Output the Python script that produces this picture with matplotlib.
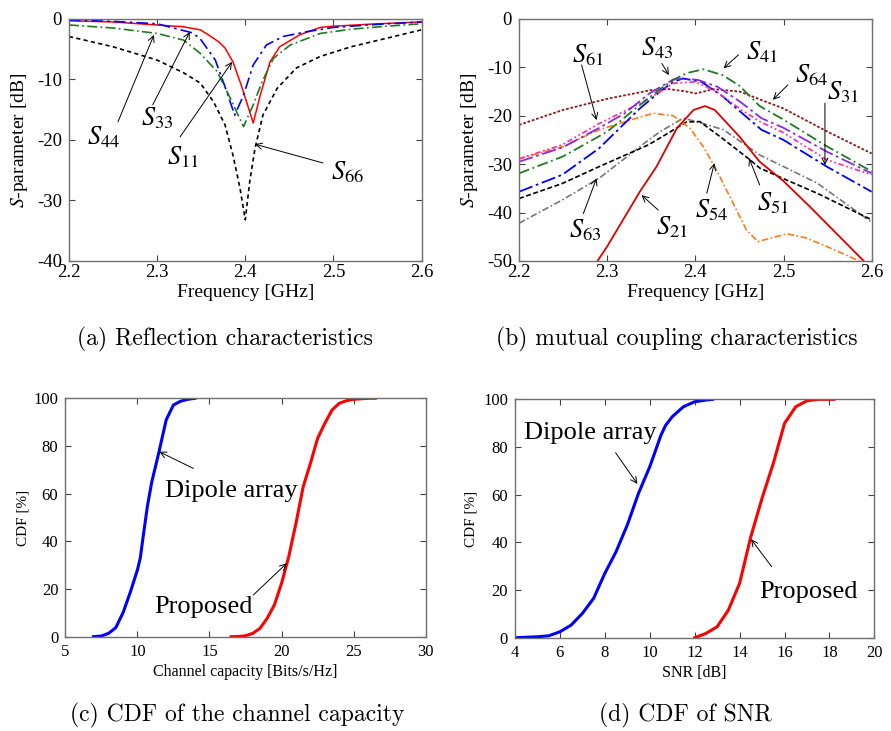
import numpy as np
import matplotlib
matplotlib.use("Agg")
import matplotlib.pyplot as plt

plt.rcParams['font.family'] = ['Liberation Serif', 'DejaVu Serif']
plt.rcParams['mathtext.fontset'] = 'stix'
plt.rcParams['axes.unicode_minus'] = False

# ── (a) reflection characteristics ──────────────────────────────────
s11_f = [2.20, 2.25, 2.30, 2.33, 2.349, 2.36, 2.37, 2.377, 2.386, 2.396, 2.409, 2.417, 2.428, 2.439, 2.462, 2.485, 2.50, 2.55, 2.60]
s11_v = [-0.3, -0.5, -1.0, -1.3, -1.8, -2.8, -3.8, -4.8, -7.1, -11.2, -17.2, -12.6, -7.1, -4.6, -2.6, -1.4, -1.2, -0.8, -0.5]

s33_f = [2.20, 2.25, 2.30, 2.34, 2.349, 2.366, 2.377, 2.388, 2.398, 2.409, 2.424, 2.443, 2.47, 2.50, 2.55, 2.60]
s33_v = [-0.2, -0.4, -0.8, -2.3, -3.3, -6.8, -11.2, -15.9, -12.6, -7.6, -4.3, -2.9, -2.1, -1.4, -0.9, -0.5]

s44_f = [2.20, 2.25, 2.30, 2.33, 2.349, 2.368, 2.383, 2.398, 2.409, 2.419, 2.432, 2.451, 2.485, 2.52, 2.56, 2.60]
s44_v = [-1.0, -1.5, -2.4, -3.5, -5.7, -8.7, -13.1, -17.8, -14.2, -10.4, -6.5, -4.3, -2.4, -1.7, -1.2, -0.8]

s66_f = [2.20, 2.25, 2.30, 2.33, 2.349, 2.364, 2.377, 2.386, 2.394, 2.40, 2.405, 2.411, 2.42, 2.436, 2.458, 2.485, 2.52, 2.56, 2.60]
s66_v = [-2.9, -4.6, -6.8, -8.9, -10.6, -13.7, -17.5, -22.5, -28.0, -33.2, -26.9, -21.4, -15.9, -11.5, -8.1, -6.2, -4.6, -3.2, -1.8]

# ── (b) mutual coupling characteristics ─────────────────────────────
s64_f = [2.20, 2.25, 2.30, 2.35, 2.37, 2.39, 2.40, 2.41, 2.42, 2.45, 2.50, 2.55, 2.60]
s64_v = [-21.9, -18.8, -16.5, -14.7, -14.5, -15.0, -15.4, -15.0, -14.5, -15.0, -18.5, -23.3, -27.8]

s41_f = [2.20, 2.25, 2.30, 2.337, 2.36, 2.375, 2.39, 2.409, 2.431, 2.45, 2.473, 2.50, 2.55, 2.60]
s41_v = [-31.9, -28.4, -23.3, -17.8, -14.5, -12.6, -11.2, -10.4, -11.6, -13.8, -18.0, -20.8, -26.4, -31.5]

s43_f = [2.20, 2.25, 2.29, 2.32, 2.347, 2.375, 2.386, 2.403, 2.425, 2.45, 2.475, 2.50, 2.55, 2.60]
s43_v = [-29.5, -26.5, -22.6, -19.5, -15.5, -12.5, -12.3, -12.6, -14.0, -17.0, -20.5, -22.5, -27.5, -31.9]

s31_f = [2.20, 2.249, 2.291, 2.337, 2.36, 2.375, 2.386, 2.407, 2.431, 2.45, 2.475, 2.50, 2.549, 2.60]
s31_v = [-35.7, -32.2, -26.7, -18.5, -15.0, -13.0, -12.3, -13.0, -16.0, -19.0, -22.9, -25.0, -30.5, -35.7]

s61_f = [2.20, 2.249, 2.291, 2.32, 2.347, 2.375, 2.40, 2.424, 2.45, 2.473, 2.50, 2.549, 2.60]
s61_v = [-28.9, -26.0, -21.6, -19.0, -16.5, -13.3, -13.0, -15.0, -18.5, -21.2, -23.5, -29.1, -32.2]

s54_f = [2.20, 2.249, 2.291, 2.337, 2.352, 2.375, 2.394, 2.409, 2.424, 2.439, 2.458, 2.471, 2.485, 2.504, 2.525, 2.549, 2.586]
s54_v = [-28.9, -26.4, -22.9, -20.3, -19.5, -20.0, -22.6, -26.4, -31.2, -36.7, -43.6, -46.0, -45.3, -44.4, -45.2, -47.0, -50.0]

s21_f = [2.289, 2.30, 2.337, 2.356, 2.379, 2.398, 2.411, 2.422, 2.45, 2.473, 2.50, 2.53, 2.591]
s21_v = [-50.0, -47.0, -35.7, -30.5, -22.6, -18.8, -18.0, -18.8, -24.3, -29.5, -33.5, -38.8, -50.0]

s51_f = [2.20, 2.249, 2.291, 2.347, 2.37, 2.39, 2.405, 2.428, 2.462, 2.473, 2.50, 2.538, 2.60]
s51_v = [-37.1, -34.0, -30.5, -26.0, -23.5, -21.3, -21.2, -24.3, -29.1, -30.8, -33.0, -36.0, -41.5]

s63_f = [2.20, 2.249, 2.291, 2.347, 2.36, 2.386, 2.405, 2.432, 2.473, 2.50, 2.538, 2.60]
s63_v = [-42.2, -37.4, -32.9, -25.0, -23.3, -20.5, -21.4, -22.9, -28.1, -30.5, -33.9, -42.0]

# ── (c) CDF of channel capacity ─────────────────────────────────────
cap_dip_x = [6.95, 7.5, 8.0, 8.5, 9.0, 9.5, 10.0, 10.2, 10.4, 10.7, 11.0, 11.2, 11.5, 11.7, 12.0, 12.2, 12.5, 13.0, 13.5, 14.0]
cap_dip_y = [0, 0.3, 1.4, 3.8, 10.0, 18.5, 28.0, 33.0, 42.0, 55.0, 65.0, 70.0, 77.6, 83.0, 91.0, 93.5, 97.2, 98.8, 99.6, 100]
cap_pro_x = [16.5, 17.0, 17.5, 18.0, 18.5, 19.0, 19.5, 20.0, 20.5, 21.0, 21.5, 22.0, 22.5, 23.0, 23.5, 24.0, 24.5, 25.0, 26.0, 26.5]
cap_pro_y = [0, 0.1, 0.4, 1.4, 3.5, 7.7, 13.3, 22.4, 33.6, 47.6, 62.9, 72.7, 83.2, 89.5, 95.1, 97.9, 99.0, 99.6, 100, 100]

# ── (d) CDF of SNR ──────────────────────────────────────────────────
snr_dip_x = [4.0, 5.0, 5.5, 6.0, 6.5, 7.0, 7.5, 8.0, 8.5, 9.0, 9.5, 10.0, 10.5, 10.7, 11.0, 11.5, 12.0, 12.5, 12.8]
snr_dip_y = [0, 0.4, 0.8, 2.5, 5.3, 10.2, 16.5, 27.0, 36.1, 47.3, 60.6, 71.7, 85.0, 89.0, 92.7, 96.9, 99.0, 99.7, 100]
snr_pro_x = [12.0, 12.5, 13.0, 13.5, 14.0, 14.5, 15.0, 15.5, 16.0, 16.5, 17.0, 17.5, 18.2]
snr_pro_y = [0, 1.8, 4.6, 11.6, 22.8, 42.4, 58.5, 73.1, 89.9, 96.9, 99.4, 100, 100]


def style_axes(ax, size, xpad, ypad):
    for sp in ax.spines.values():
        sp.set_color('#707070')
        sp.set_linewidth(1.0)
    ax.tick_params(direction='in', top=True, right=True, length=4, width=0.8,
                   color='#404040', labelsize=size)
    ax.tick_params(axis='x', pad=xpad)
    ax.tick_params(axis='y', pad=ypad)


def arrow(ax, head, tail):
    ax.annotate('', xy=head, xytext=tail,
                arrowprops=dict(arrowstyle='->', lw=0.7, color='black',
                                shrinkA=0, shrinkB=0, mutation_scale=11))


fig = plt.figure(figsize=(8.91, 7.31), dpi=100)

# (a)
ax = fig.add_axes([0.0774, 0.6430, 0.3958, 0.3311])
ax.plot(s11_f, s11_v, color='red', lw=1.1)
ax.plot(s33_f, s33_v, color='blue', lw=1.2, dashes=(7, 2.5, 1.5, 2.5))
ax.plot(s44_f, s44_v, color='#1e7b1e', lw=1.2, dashes=(6, 2, 1, 2))
ax.plot(s66_f, s66_v, color='black', lw=1.2, dashes=(2.5, 2))
ax.set_xlim(2.2, 2.6)
ax.set_ylim(-40, 0)
ax.set_xticks(np.arange(2.2, 2.61, 0.1))
ax.set_yticks([0, -10, -20, -30, -40])
style_axes(ax, 13.5, 2.5, 5)
ax.set_xlabel('Frequency [GHz]', fontsize=14)
ax.set_ylabel(r'$S$-parameter [dB]', fontsize=14)
ax.xaxis.set_label_coords(0.5, -0.095)
ax.yaxis.set_label_coords(-0.11, 0.5)
arrow(ax, (2.2964, -2.64), (2.2556, -17.0))
arrow(ax, (2.337, -2.15), (2.295, -14.2))
arrow(ax, (2.385, -7.1), (2.326, -19.5))
arrow(ax, (2.411, -20.7), (2.488, -23.8))
for txt, x, y in [(r'$S_{44}$', 2.2397, -19.5), (r'$S_{33}$', 2.2998, -16.4),
                  (r'$S_{11}$', 2.3293, -22.8), (r'$S_{66}$', 2.5164, -25.3)]:
    ax.text(x, y, txt, fontsize=19, ha='center', va='center')

# (b)
ax = fig.add_axes([0.5825, 0.6430, 0.3958, 0.3311])
ax.plot(s64_f, s64_v, color='#8b1a1a', lw=1.3, dashes=(1.5, 1))
ax.plot(s63_f, s63_v, color='#777777', lw=1.2, dashes=(4, 1.5, 1, 1.5))
ax.plot(s51_f, s51_v, color='black', lw=1.2, dashes=(3, 1.5))
ax.plot(s54_f, s54_v, color='#ff7a1a', lw=1.2, dashes=(4, 1.5, 1, 1.5))
ax.plot(s21_f, s21_v, color='#e00000', lw=1.3)
ax.plot(s31_f, s31_v, color='blue', lw=1.3, dashes=(8, 2, 1.5, 2))
ax.plot(s61_f, s61_v, color='#ff33aa', lw=1.3, dashes=(3, 1.5, 1, 1.5, 1, 1.5))
ax.plot(s43_f, s43_v, color='#8a2be2', lw=1.3, dashes=(8, 2, 1.5, 2))
ax.plot(s41_f, s41_v, color='#1e7b1e', lw=1.3, dashes=(6, 2, 1, 2))
ax.set_xlim(2.2, 2.6)
ax.set_ylim(-50, 0)
ax.set_xticks(np.arange(2.2, 2.61, 0.1))
ax.set_yticks([0, -10, -20, -30, -40, -50])
style_axes(ax, 13.5, 2.5, 5)
ax.set_xlabel('Frequency [GHz]', fontsize=14)
ax.set_ylabel(r'$S$-parameter [dB]', fontsize=14)
ax.xaxis.set_label_coords(0.5, -0.095)
ax.yaxis.set_label_coords(-0.11, 0.5)
arrow(ax, (2.288, -20.9), (2.271, -9.5))
arrow(ax, (2.370, -11.6), (2.362, -9.2))
arrow(ax, (2.432, -10.2), (2.449, -7.4))
arrow(ax, (2.488, -16.7), (2.505, -13.6))
arrow(ax, (2.547, -30.2), (2.547, -17.4))
arrow(ax, (2.288, -32.9), (2.273, -40.2))
arrow(ax, (2.339, -36.4), (2.358, -39.5))
arrow(ax, (2.4216, -29.8), (2.413, -36.0))
arrow(ax, (2.461, -28.8), (2.473, -34.3))
for txt, x, y in [(r'$S_{61}$', 2.2783, -7.4), (r'$S_{43}$', 2.3565, -6.0),
                  (r'$S_{41}$', 2.4756, -6.8), (r'$S_{64}$', 2.5323, -11.6),
                  (r'$S_{31}$', 2.5674, -15.1), (r'$S_{63}$', 2.2749, -43.6),
                  (r'$S_{21}$', 2.3735, -43.0), (r'$S_{54}$', 2.4189, -39.5),
                  (r'$S_{51}$', 2.4881, -38.0)]:
    ax.text(x, y, txt, fontsize=19, ha='center', va='center')

# (c)
ax = fig.add_axes([0.0733, 0.1290, 0.4045, 0.3261])
ax.plot(cap_dip_x, cap_dip_y, color='blue', lw=2.2)
ax.plot(cap_pro_x, cap_pro_y, color='red', lw=2.2)
ax.set_xlim(5, 30)
ax.set_ylim(0, 100)
ax.set_xticks(range(5, 31, 5))
ax.set_yticks(range(0, 101, 20))
style_axes(ax, 12, 5.5, 5)
ax.set_xlabel('Channel capacity [Bits/s/Hz]', fontsize=11.5)
ax.set_ylabel('CDF [%]', fontsize=11)
ax.xaxis.set_label_coords(0.5, -0.115)
ax.yaxis.set_label_coords(-0.098, 0.5)
arrow(ax, (11.52, 77.6), (13.88, 70.6))
arrow(ax, (20.36, 30.8), (18.04, 17.5))
ax.text(16.49, 61.1, 'Dipole array', fontsize=19, ha='center', va='center')
ax.text(14.59, 12.5, 'Proposed', fontsize=19, ha='center', va='center')

# (d)
ax = fig.add_axes([0.5780, 0.1276, 0.4033, 0.3261])
ax.plot(snr_dip_x, snr_dip_y, color='blue', lw=2.2)
ax.plot(snr_pro_x, snr_pro_y, color='red', lw=2.2)
ax.set_xlim(4, 20)
ax.set_ylim(0, 100)
ax.set_xticks(range(4, 21, 2))
ax.set_yticks(range(0, 101, 20))
style_axes(ax, 12, 5.5, 5)
ax.set_xlabel('SNR [dB]', fontsize=11.5)
ax.set_ylabel('CDF [%]', fontsize=11)
ax.xaxis.set_label_coords(0.5, -0.115)
ax.yaxis.set_label_coords(-0.103, 0.5)
arrow(ax, (9.45, 64.5), (8.48, 77.6))
arrow(ax, (14.51, 41.3), (15.43, 29.8))
ax.text(7.36, 85.9, 'Dipole array', fontsize=19, ha='center', va='center')
ax.text(17.05, 19.2, 'Proposed', fontsize=19, ha='center', va='center')

# captions
for txt, x, y in [('(a) Reflection characteristics', 225, 339),
                  ('(b) mutual coupling characteristics', 677, 339),
                  ('(c) CDF of the channel capacity', 237, 715),
                  ('(d) CDF of SNR', 685, 715)]:
    fig.text(x / 891, 1 - y / 731, txt, fontsize=17, family='cmr10',
             ha='center', va='center')

fig.savefig('out.png', dpi=100)
